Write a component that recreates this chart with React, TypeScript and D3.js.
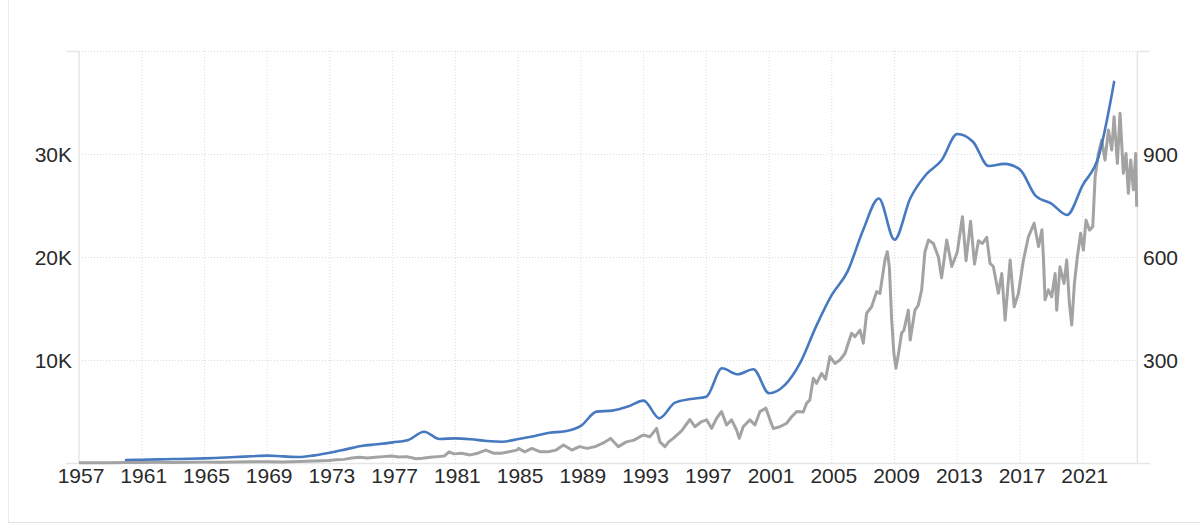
import { useEffect, useRef } from "react";
import * as d3 from "d3";

// annual series, left axis
const blueYears = d3.range(1960, 2024);
const blueValues = [
  340, 370, 400, 430, 460, 500, 560, 630, 700, 760,
  690, 630, 790, 1050, 1370, 1700, 1860, 2050, 2280, 3080,
  2380, 2440, 2350, 2180, 2110, 2370, 2650, 2980, 3120, 3640,
  5030, 5130, 5520, 6100, 4380, 5900, 6250, 6480, 9230, 8650,
  9140, 6810, 7600, 9800, 13300, 16350, 18600, 22650, 25700, 21700,
  25700, 28000, 29400, 31950, 31200, 28850, 29050, 28500, 25950, 25200,
  24100, 27000, 29700, 37000,
];

// monthly-ish series, right axis (dates as decimal years)
const greyTimes = [
  1957, 1958, 1959, 1960, 1961, 1962, 1963, 1964, 1965, 1966, 1967, 1968, 1969, 1970, 1971,
  1971.96, 1972.5, 1972.9, 1973.4, 1973.9, 1974.4, 1974.9, 1975.4, 1975.9, 1976.4, 1976.9,
  1977.4, 1977.9, 1978.5, 1978.9, 1979.4, 1979.9, 1980.3, 1980.6, 1980.9, 1981.4, 1981.94,
  1982.43, 1982.94, 1983.42, 1983.93, 1984.42, 1984.93, 1985.02, 1985.42, 1985.87, 1986.42,
  1986.91, 1987.42, 1987.89, 1988.42, 1988.91, 1989.4, 1989.91, 1990.4, 1990.9, 1991.39,
  1991.9, 1992.39, 1992.77, 1992.99, 1993.41, 1993.83, 1994.04, 1994.36, 1994.6, 1994.89,
  1995.42, 1995.95, 1996.27, 1996.7, 1997.02, 1997.34, 1997.65, 1997.97, 1998.29, 1998.61,
  1998.93, 1999.1, 1999.35, 1999.78, 2000.1, 2000.42, 2000.8, 2001.06, 2001.27, 2001.69,
  2002.12, 2002.44, 2002.76, 2003.18, 2003.39, 2003.6, 2003.82, 2004.03, 2004.35, 2004.6,
  2004.88, 2005.2, 2005.52, 2005.84, 2006.05, 2006.26, 2006.48, 2006.8, 2007.01, 2007.22,
  2007.54, 2007.86, 2008.07, 2008.39, 2008.54, 2008.67, 2008.82, 2008.96, 2009.09, 2009.24,
  2009.45, 2009.6, 2009.88, 2010.0, 2010.3, 2010.51, 2010.73, 2010.94, 2011.16, 2011.48,
  2011.8, 2012.0, 2012.33, 2012.65, 2013.0, 2013.33, 2013.56, 2013.85, 2014.1, 2014.35,
  2014.6, 2014.88, 2015.09, 2015.3, 2015.62, 2015.84, 2016.05, 2016.37, 2016.63, 2016.9,
  2017.22, 2017.54, 2017.9, 2018.18, 2018.4, 2018.49, 2018.6, 2018.81, 2019.02, 2019.24,
  2019.34, 2019.55, 2019.81, 2019.98, 2020.15, 2020.3, 2020.47, 2020.66, 2020.87, 2021.04,
  2021.21, 2021.43, 2021.64, 2021.79, 2022.0, 2022.21, 2022.42, 2022.64, 2022.85, 2023.0,
  2023.21, 2023.38, 2023.59, 2023.76, 2023.91, 2024.06, 2024.23, 2024.38, 2024.44,
];
const greyValues = [
  2, 2, 2.5, 3, 3, 3.5, 3, 3.5, 4, 4, 4.5, 5, 5, 4.5, 5.5,
  7, 8, 9, 11, 12, 16, 18, 16, 18, 20, 22,
  19, 20, 14, 15, 18, 20, 22, 34, 28, 30, 25,
  30, 39, 30, 30, 34, 39, 44, 34, 44, 34,
  34, 39, 54, 39, 49, 44, 49, 59, 73, 49,
  63, 68, 78, 83, 78, 102, 63, 49, 63, 73,
  95, 128, 107, 122, 127, 102, 131, 151, 112, 127,
  97, 73, 107, 127, 112, 151, 161, 127, 102, 107,
  117, 136, 151, 150, 175, 185, 248, 233, 262, 245,
  311, 291, 301, 320, 350, 379, 369, 388, 350, 437,
  456, 500, 495, 592, 616, 572, 417, 320, 277, 316,
  379, 388, 446, 359, 446, 460, 505, 616, 650, 640,
  600, 540, 650, 573, 615, 718, 590, 705, 580, 648,
  640, 658, 582, 573, 495, 553, 417, 592, 456, 495,
  592, 660, 699, 631, 680, 602, 476, 505, 485, 553,
  446, 572, 524, 592, 466, 403, 524, 602, 670, 621,
  708, 679, 689, 834, 902, 941, 883, 970, 912, 1009,
  873, 1019, 844, 902, 786, 883, 796, 902, 747,
];

const xTickYears = d3.range(1957, 2022, 4);
const leftTicks = [10000, 20000, 30000];
const rightTicks = [300, 600, 900];

const W = 1200;
const H = 524;
const plot = { left: 79, right: 1137.3, top: 51, bottom: 463.5 };

export default function App() {
  const svgRef = useRef<SVGSVGElement>(null);

  useEffect(() => {
    if (!svgRef.current) return;
    const svg = d3.select(svgRef.current);
    svg.selectAll("*").remove();

    const x = d3.scaleLinear().domain([1957, 2024.48]).range([plot.left, plot.right]);
    const yL = d3.scaleLinear().domain([0, 40000]).range([plot.bottom, plot.top]);
    const yR = d3.scaleLinear().domain([0, 1200]).range([plot.bottom, plot.top]);

    const font = "'Liberation Sans', Arial, Helvetica, sans-serif";
    const gridColor = "#dcdcdc";
    const axisColor = "#e6e6e6";

    // card border
    svg.append("line").attr("x1", 8.5).attr("x2", 8.5).attr("y1", 0).attr("y2", 522.5)
      .attr("stroke", "#ececec");
    svg.append("line").attr("x1", 8).attr("x2", W).attr("y1", 522.5).attr("y2", 522.5)
      .attr("stroke", "#e3e3e3");

    // vertical grid
    svg.append("g").selectAll("line").data(xTickYears.slice(1)).enter().append("line")
      .attr("x1", (d) => x(d)).attr("x2", (d) => x(d))
      .attr("y1", plot.top).attr("y2", plot.bottom)
      .attr("stroke", gridColor).attr("stroke-dasharray", "1,2");

    // horizontal grid
    svg.append("g").selectAll("line").data([...leftTicks, 40000]).enter().append("line")
      .attr("x1", plot.left).attr("x2", plot.right)
      .attr("y1", (d) => Math.round(yL(d)) + 0.5).attr("y2", (d) => Math.round(yL(d)) + 0.5)
      .attr("stroke", gridColor).attr("stroke-dasharray", "1,2");

    // axis lines
    svg.append("line").attr("x1", plot.left).attr("x2", plot.left)
      .attr("y1", plot.top).attr("y2", plot.bottom).attr("stroke", axisColor).attr("stroke-width", 1.5);
    svg.append("line").attr("x1", plot.right).attr("x2", plot.right)
      .attr("y1", plot.top).attr("y2", plot.bottom).attr("stroke", axisColor).attr("stroke-width", 1.5);
    svg.append("line").attr("x1", 66).attr("x2", 1150)
      .attr("y1", plot.bottom).attr("y2", plot.bottom).attr("stroke", axisColor).attr("stroke-width", 1.5);
    svg.append("line").attr("x1", 66).attr("x2", plot.left)
      .attr("y1", plot.top + 0.5).attr("y2", plot.top + 0.5).attr("stroke", axisColor).attr("stroke-width", 1.5);
    svg.append("line").attr("x1", plot.right).attr("x2", 1150)
      .attr("y1", plot.top + 0.5).attr("y2", plot.top + 0.5).attr("stroke", axisColor).attr("stroke-width", 1.5);

    // x labels
    svg.append("g").selectAll("text").data(xTickYears).enter().append("text")
      .attr("x", (d) => x(d) + 2).attr("y", 483)
      .attr("text-anchor", "middle")
      .style("font-family", font).style("font-size", "21px").style("fill", "#2a2a2a")
      .text((d) => String(d));

    // left labels
    svg.append("g").selectAll("text").data(leftTicks).enter().append("text")
      .attr("x", 72).attr("y", (d) => yL(d) + 7.5)
      .attr("text-anchor", "end")
      .style("font-family", font).style("font-size", "21px").style("fill", "#2a2a2a")
      .text((d) => `${d / 1000}K`);

    // right labels
    svg.append("g").selectAll("text").data(rightTicks).enter().append("text")
      .attr("x", 1143).attr("y", (d) => yR(d) + 7.5)
      .attr("text-anchor", "start")
      .style("font-family", font).style("font-size", "21px").style("fill", "#2a2a2a")
      .text((d) => String(d));

    // grey series
    const greyLine = d3.line<number>()
      .x((_d, i) => x(greyTimes[i]))
      .y((d) => yR(d));
    svg.append("path").datum(greyValues)
      .attr("d", greyLine)
      .attr("fill", "none").attr("stroke", "#a3a3a3").attr("stroke-width", 3)
      .attr("stroke-linejoin", "round");

    // blue series
    const blueLine = d3.line<number>()
      .x((_d, i) => x(blueYears[i]))
      .y((d) => yL(d))
      .curve(d3.curveMonotoneX);
    svg.append("path").datum(blueValues)
      .attr("d", blueLine)
      .attr("fill", "none").attr("stroke", "#4679c0").attr("stroke-width", 2.6)
      .attr("stroke-linejoin", "round").attr("stroke-linecap", "round");
  }, []);

  return (
    <svg
      ref={svgRef}
      width={W}
      height={H}
      viewBox={`0 0 ${W} ${H}`}
      style={{ position: "absolute", left: 0, top: 0, background: "#fff" }}
    />
  );
}
